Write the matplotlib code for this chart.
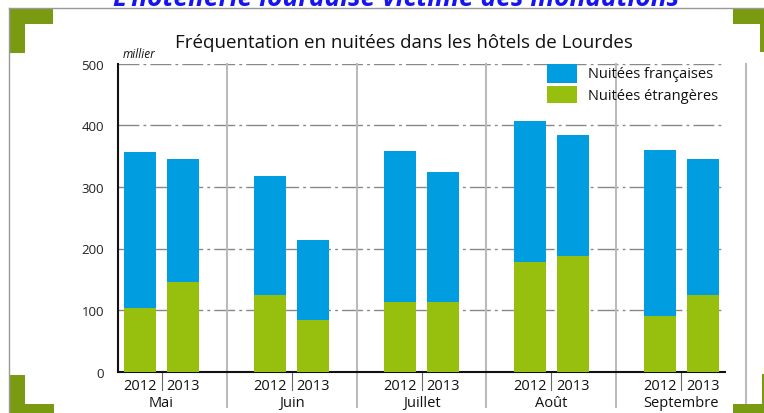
import matplotlib.pyplot as plt
from matplotlib.patches import Rectangle
import matplotlib.transforms as mtransforms
import numpy as np

plt.rcParams['font.family'] = ['Open Sans', 'DejaVu Sans']

# data (milliers de nuitées)
months = ['Mai', 'Juin', 'Juillet', 'Août', 'Septembre']
years = ['2012', '2013']
total_2012 = [356, 317, 358, 407, 360]
total_2013 = [345, 213, 324, 385, 345]
etrangeres_2012 = [103, 124, 113, 178, 91]
etrangeres_2013 = [145, 84, 113, 188, 125]
francaises_2012 = [t - e for t, e in zip(total_2012, etrangeres_2012)]
francaises_2013 = [t - e for t, e in zip(total_2013, etrangeres_2013)]
yticks = [0, 100, 200, 300, 400, 500]

BLUE = '#009EE0'
GREEN = '#97BF0D'
OLIVE = '#7A9A12'
W, H = 764, 414

fig = plt.figure(figsize=(W / 100, H / 100), dpi=100)
fig.patch.set_facecolor('white')


def fx(x):
    return x / W


def fy(y):
    return 1 - y / H


def box(x0, y0, x1, y1, color, z=0):
    fig.patches.append(Rectangle((fx(x0), fy(y1)), fx(x1) - fx(x0), fy(y0) - fy(y1),
                                 transform=fig.transFigure, color=color, lw=0, zorder=z))


# decorative frame
fig.add_artist(plt.Line2D([fx(9), fx(9)], [fy(9), 0], transform=fig.transFigure, color='#999999', lw=1))
fig.add_artist(plt.Line2D([fx(9), fx(764)], [fy(9), fy(9)], transform=fig.transFigure, color='#999999', lw=1))
box(9, 9, 53, 25, OLIVE)
box(9, 9, 25, 54, OLIVE)
box(733, 9, 764, 25, OLIVE)
box(760, 9, 764, 53, OLIVE)
box(9, 376, 25, 414, OLIVE)
box(9, 405, 54, 414, OLIVE)
box(762, 375, 764, 414, OLIVE)
box(733, 405, 764, 414, OLIVE)

# headline, cut off at the top edge as in the original
fig.text(fx(396), fy(6), "L'hôtellerie lourdaise victime des inondations", ha='center', va='baseline',
         fontsize=19, fontweight='bold', fontstyle='italic', color='#1515F0')

fig.text(fx(404), fy(43), 'Fréquentation en nuitées dans les hôtels de Lourdes', ha='center', va='center',
         fontsize=13.5, color='#111111')

ax = fig.add_axes([fx(118), fy(372.7), fx(725) - fx(118), fy(64.7) - fy(372.7)])
ax.set_xlim(-0.335, 4.335)
ax.set_ylim(0, 500)

x = np.arange(len(months))
off = 0.165
bw = 0.246
ax.bar(x - off, etrangeres_2012, bw, color=GREEN, zorder=3)
ax.bar(x - off, francaises_2012, bw, bottom=etrangeres_2012, color=BLUE, zorder=3)
ax.bar(x + off, etrangeres_2013, bw, color=GREEN, zorder=3)
ax.bar(x + off, francaises_2013, bw, bottom=etrangeres_2013, color=BLUE, zorder=3)

# grid
for v in yticks[1:]:
    ax.axhline(v, color='#888888', lw=1, linestyle=(0, (15, 3, 2, 3)), zorder=1)

trans = mtransforms.blended_transform_factory(ax.transData, ax.transAxes)
for i in range(len(months)):
    sep = i + 0.5
    ax.plot([sep, sep], [1, -0.115], transform=trans, color='#BBBBBB', lw=1.5, clip_on=False, zorder=2)
    ax.plot([i, i], [0, -0.06], transform=trans, color='#666666', lw=0.8, clip_on=False, zorder=2)
    ax.text(i - off, -0.045, years[0], transform=trans, ha='center', va='center', fontsize=10.5, color='#111111')
    ax.text(i + off, -0.045, years[1], transform=trans, ha='center', va='center', fontsize=10.5, color='#111111')
    ax.text(i, -0.099, months[i], transform=trans, ha='center', va='center', fontsize=10.5, color='#111111')

for s in ['top', 'right']:
    ax.spines[s].set_visible(False)
for s in ['left', 'bottom']:
    ax.spines[s].set_linewidth(1.5)
    ax.spines[s].set_color('#111111')

ax.set_xticks([])
ax.set_yticks(yticks)
ax.set_yticklabels([str(v) for v in yticks], fontsize=9.5, color='#222222')
ax.tick_params(axis='y', length=0, pad=10)

ax.text(0.007, 1.012, 'millier', transform=ax.transAxes, ha='left', va='bottom', fontsize=8.5,
        fontstyle='italic', color='#111111')

# legend
box(547, 65, 577, 84, BLUE, 5)
box(547, 87, 577, 104, GREEN, 5)
fig.text(fx(588), fy(75), 'Nuitées françaises', ha='left', va='center', fontsize=10.5, color='#111111', zorder=6)
fig.text(fx(588), fy(96), 'Nuitées étrangères', ha='left', va='center', fontsize=10.5, color='#111111', zorder=6)

fig.savefig('out.png', dpi=100)
